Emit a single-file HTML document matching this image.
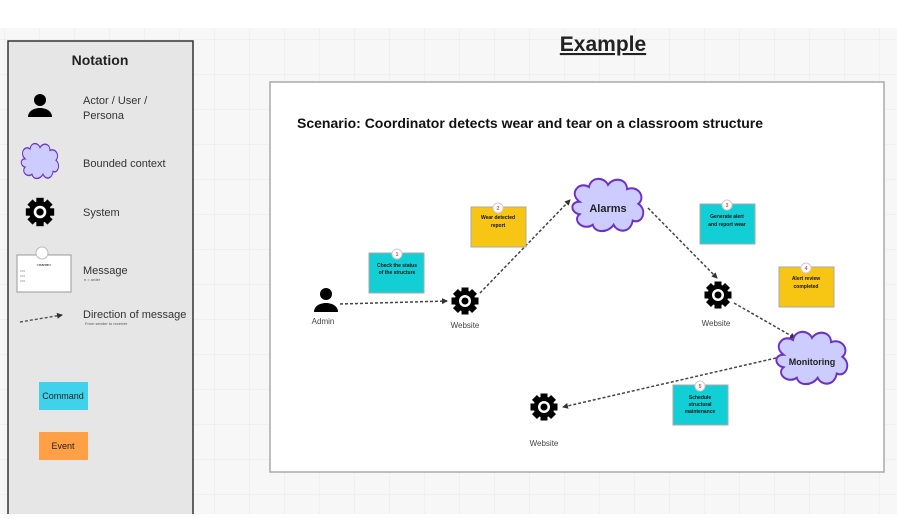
<!DOCTYPE html>
<html><head><meta charset="utf-8"><style>
body{margin:0;width:897px;height:514px;overflow:hidden;background:#fff;font-family:"Liberation Sans",sans-serif}
</style></head><body>
<svg width="897" height="514" viewBox="0 0 897 514" xmlns="http://www.w3.org/2000/svg" font-family="Liberation Sans, sans-serif">
<defs>
<pattern id="g" width="35" height="35" patternUnits="userSpaceOnUse" x="5" y="5">
<rect width="35" height="35" fill="#f7f7f7"/><path d="M35 0V35M0 35H35" stroke="#e9e9e9" stroke-width="1"/></pattern>
<g id="gear"><circle r="10.5" fill="#000"/>
<g fill="#000"><rect x="-3.5" y="-13.5" width="7" height="6"/><rect x="-3.5" y="7.5" width="7" height="6"/><rect x="-13.5" y="-3.5" width="6" height="7"/><rect x="7.5" y="-3.5" width="6" height="7"/>
<rect x="-3.5" y="-13.5" width="7" height="6" transform="rotate(45)"/><rect x="-3.5" y="7.5" width="7" height="6" transform="rotate(45)"/><rect x="-13.5" y="-3.5" width="6" height="7" transform="rotate(45)"/><rect x="7.5" y="-3.5" width="6" height="7" transform="rotate(45)"/></g>
<circle r="6" fill="#fff"/><circle r="3.5" fill="#000"/></g>
<path id="cloud" d="M-30,-6 C-42,-14 -30,-26 -20,-20 C-18,-30 -4,-30 0,-22 C6,-30 20,-28 20,-18 C32,-22 40,-10 32,-4 C42,2 36,16 26,12 C24,24 10,24 6,16 C0,24 -14,24 -16,16 C-26,22 -38,12 -30,6 C-40,4 -40,-6 -30,-6Z" fill="#ccccff" stroke="#6a32c8" stroke-width="2"/>
<marker id="ah" markerWidth="6" markerHeight="6" refX="5" refY="3" orient="auto" markerUnits="userSpaceOnUse"><path d="M0,0L6,3L0,6Z" fill="#333"/></marker>
</defs>
<rect x="0" y="28" width="897" height="486" fill="url(#g)"/>
<rect x="8" y="41" width="185" height="480" fill="#e6e6e6" stroke="#333" stroke-width="1.5"/>
<text x="100" y="65" font-size="14" font-weight="bold" text-anchor="middle" fill="#222">Notation</text>
<circle cx="40" cy="100" r="6" fill="#000"/><path d="M28,117 C28,105 52,105 52,117Z" fill="#000"/>
<text x="83" y="104" font-size="11" fill="#333">Actor / User /</text>
<text x="83" y="119" font-size="11" fill="#333">Persona</text>
<use href="#cloud" transform="translate(40,163) scale(0.5,0.7)"/>
<text x="83" y="167" font-size="11" fill="#333">Bounded context</text>
<use href="#gear" transform="translate(40,212) scale(1.05)"/>
<text x="83" y="216" font-size="11" fill="#333">System</text>
<rect x="17" y="255" width="54" height="37" fill="#fff" stroke="#999"/>
<circle cx="42" cy="253" r="6" fill="#fff" stroke="#bbb"/>
<text x="44" y="266" font-size="4" text-anchor="middle">&lt;name&gt;</text>
<text x="20" y="272" font-size="3">&lt;&lt;&gt;</text><text x="20" y="277" font-size="3">&lt;&lt;&gt;</text><text x="20" y="282" font-size="3">&lt;&lt;&gt;</text>
<text x="83" y="274" font-size="11" fill="#333">Message</text>
<text x="84" y="281" font-size="4" fill="#555">n = order</text>
<line x1="20" y1="322" x2="62" y2="315" stroke="#555" stroke-width="1.4" stroke-dasharray="3,2" marker-end="url(#ah)"/>
<text x="83" y="318" font-size="11" fill="#333">Direction of message</text>
<text x="85" y="325" font-size="4" fill="#555">From sender to receiver</text>
<rect x="39" y="382" width="49" height="28" fill="#3fd2ea"/>
<text x="63" y="399" font-size="9" text-anchor="middle" fill="#222">Command</text>
<rect x="39" y="432" width="49" height="28" fill="#ffa047"/>
<text x="63" y="449" font-size="9" text-anchor="middle" fill="#222">Event</text>
<text x="603" y="51" font-size="21" font-weight="bold" text-anchor="middle" fill="#222" text-decoration="underline">Example</text>
<rect x="270" y="82" width="614" height="390" fill="#fff" stroke="#aaa" stroke-width="1.5"/>
<text x="297" y="128" font-size="14" font-weight="bold" fill="#111">Scenario: Coordinator detects wear and tear on a classroom structure</text>
<g stroke="#444" stroke-width="1.5" stroke-dasharray="3,2" fill="none">
<line x1="340" y1="304" x2="447" y2="301" marker-end="url(#ah)"/>
<line x1="480" y1="293" x2="570" y2="200" marker-end="url(#ah)"/>
<line x1="648" y1="208" x2="717" y2="278" marker-end="url(#ah)"/>
<line x1="734" y1="303" x2="795" y2="338" marker-end="url(#ah)"/>
<line x1="776" y1="358" x2="563" y2="407" marker-end="url(#ah)"/>
</g>
<circle cx="326" cy="294" r="6" fill="#000"/><path d="M314,312 C314,300 338,300 338,312Z" fill="#000"/>
<text x="323" y="324" font-size="8" text-anchor="middle" fill="#444">Admin</text>
<use href="#gear" transform="translate(465,301)"/>
<text x="465" y="328" font-size="8" text-anchor="middle" fill="#444">Website</text>
<use href="#gear" transform="translate(718,295)"/>
<text x="716" y="326" font-size="8" text-anchor="middle" fill="#444">Website</text>
<use href="#gear" transform="translate(544,407)"/>
<text x="544" y="446" font-size="8" text-anchor="middle" fill="#444">Website</text>
<use href="#cloud" transform="translate(608,208) scale(0.95,1.05)"/>
<text x="608" y="212" font-size="11" font-weight="bold" text-anchor="middle" fill="#222">Alarms</text>
<use href="#cloud" transform="translate(812,361) scale(0.95,1.05)"/>
<text x="812" y="365" font-size="9" font-weight="bold" text-anchor="middle" fill="#222">Monitoring</text>
<g font-size="5" font-weight="bold" text-anchor="middle" fill="#111">
<rect x="369" y="253" width="55" height="40" fill="#12cfd6" stroke="#aaa"/><circle cx="397" cy="254" r="5" fill="#fff" stroke="#ccc"/><text x="397" y="256" fill="#e44" font-size="5">1</text>
<text x="397" y="267">Check the status</text><text x="397" y="274">of the structure</text>
<rect x="471" y="207" width="55" height="40" fill="#f7c514" stroke="#aaa"/><circle cx="498" cy="208" r="5" fill="#fff" stroke="#ccc"/><text x="498" y="210" fill="#e44">2</text>
<text x="498" y="219">Wear detected</text><text x="498" y="227">report</text>
<rect x="700" y="204" width="55" height="40" fill="#12cfd6" stroke="#aaa"/><circle cx="727" cy="205" r="5" fill="#fff" stroke="#ccc"/><text x="727" y="207" fill="#e44">3</text>
<text x="727" y="218">Generate alert</text><text x="727" y="226">and report wear</text>
<rect x="779" y="267" width="55" height="40" fill="#f7c514" stroke="#aaa"/><circle cx="806" cy="268" r="5" fill="#fff" stroke="#ccc"/><text x="806" y="270" fill="#e44">4</text>
<text x="806" y="280">Alert review</text><text x="806" y="288">completed</text>
<rect x="673" y="385" width="55" height="40" fill="#12cfd6" stroke="#aaa"/><circle cx="700" cy="386" r="5" fill="#fff" stroke="#ccc"/><text x="700" y="388" fill="#e44">5</text>
<text x="700" y="399">Schedule</text><text x="700" y="406">structural</text><text x="700" y="413">maintenance</text>
</g>
</svg>
</body></html>
